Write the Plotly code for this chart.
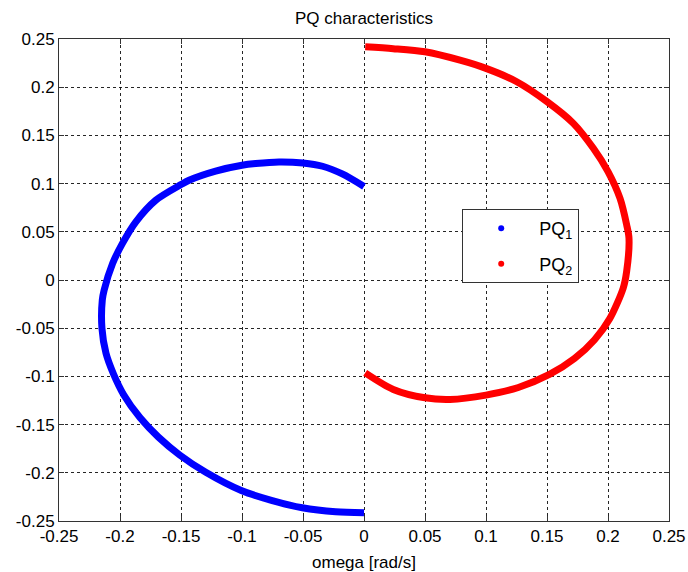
import plotly.graph_objects as go

# PQ1 (blue) : omega, value
pq1_x = [0.0, -0.0178, -0.034, -0.05, -0.0697, -0.0888, -0.1, -0.1216, -0.1434, -0.15,
         -0.1707, -0.187, -0.198, -0.206, -0.213, -0.2145, -0.2148, -0.2115, -0.2055, -0.197,
         -0.1835, -0.1685, -0.1511, -0.1297, -0.1006, -0.0752, -0.0506, -0.0232, 0.0]
pq1_y = [0.097, 0.110, 0.118, 0.1214, 0.1225, 0.1208, 0.119, 0.113, 0.1035, 0.099,
         0.0828, 0.0604, 0.038, 0.0173, -0.0104, -0.0207, -0.05, -0.0759, -0.097, -0.119,
         -0.143, -0.163, -0.1815, -0.1995, -0.2184, -0.2288, -0.2363, -0.2405, -0.2415]

# PQ2 (red)
pq2_x = [0.001, 0.024, 0.05, 0.0787, 0.1, 0.1252, 0.15, 0.1716, 0.188, 0.2,
         0.2098, 0.2153, 0.2172, 0.2153, 0.2125, 0.2015, 0.189, 0.1725, 0.152, 0.1265,
         0.1, 0.0705, 0.05, 0.024, 0.001]
pq2_y = [0.2419, 0.240, 0.2367, 0.228, 0.2195, 0.2057, 0.185, 0.1625, 0.1366, 0.1125,
         0.0849, 0.0572, 0.0435, 0.009, -0.0083, -0.040, -0.062, -0.0815, -0.098, -0.1115,
         -0.1194, -0.1239, -0.1222, -0.1135, -0.0963]

tick_vals = [-0.25, -0.2, -0.15, -0.1, -0.05, 0, 0.05, 0.1, 0.15, 0.2, 0.25]
tick_text = ["-0.25", "-0.2", "-0.15", "-0.1", "-0.05", "0", "0.05", "0.1", "0.15", "0.2", "0.25"]

series_names = ["PQ<sub>1</sub>", "PQ<sub>2</sub>"]
series_colors = ["#0000ff", "#ff0000"]

FONT = "Liberation Sans, Arial, sans-serif"

fig = go.Figure()
for xs, ys, col in [(pq1_x, pq1_y, series_colors[0]), (pq2_x, pq2_y, series_colors[1])]:
    fig.add_trace(go.Scatter(x=xs, y=ys, mode="lines",
                             line=dict(color=col, width=7, shape="spline", smoothing=0.8),
                             showlegend=False, hoverinfo="skip"))
for i, (name, col) in enumerate(zip(series_names, series_colors)):
    fig.add_trace(go.Scatter(x=[None], y=[None], mode="markers", name=name,
                             marker=dict(color=col, size=6), legendgroup="g%d" % i))

axis_common = dict(
    range=[-0.25, 0.25], tickvals=tick_vals, ticktext=tick_text, automargin=False,
    showgrid=True, gridcolor="rgba(0,0,0,0.85)", gridwidth=1, griddash="3px,3px",
    zeroline=False, showline=True, linecolor="#333333", linewidth=1, mirror="ticks",
    ticks="inside", ticklen=5, tickcolor="#333333",
    tickfont=dict(family=FONT, size=17, color="black"),
)

fig.update_layout(
    width=688, height=572,
    margin=dict(l=59, r=19, t=39, b=51),
    paper_bgcolor="white", plot_bgcolor="white",
    title=dict(text="PQ characteristics", x=364 / 688, xanchor="center", y=1 - 18 / 572, yanchor="middle",
               yref="container", font=dict(family=FONT, size=17, color="black")),
    xaxis=dict(**axis_common, title=dict(text="omega [rad/s]", standoff=10,
                                         font=dict(family=FONT, size=17, color="black"))),
    yaxis=dict(**axis_common),
    legend=dict(x=0.661, y=0.647, xanchor="left", yanchor="top",
                bgcolor="white", bordercolor="#333333", borderwidth=1,
                font=dict(family=FONT, size=18, color="black"),
                itemwidth=66, tracegroupgap=9, traceorder="grouped"),
    showlegend=True,
)

fig.write_html("out.html")
